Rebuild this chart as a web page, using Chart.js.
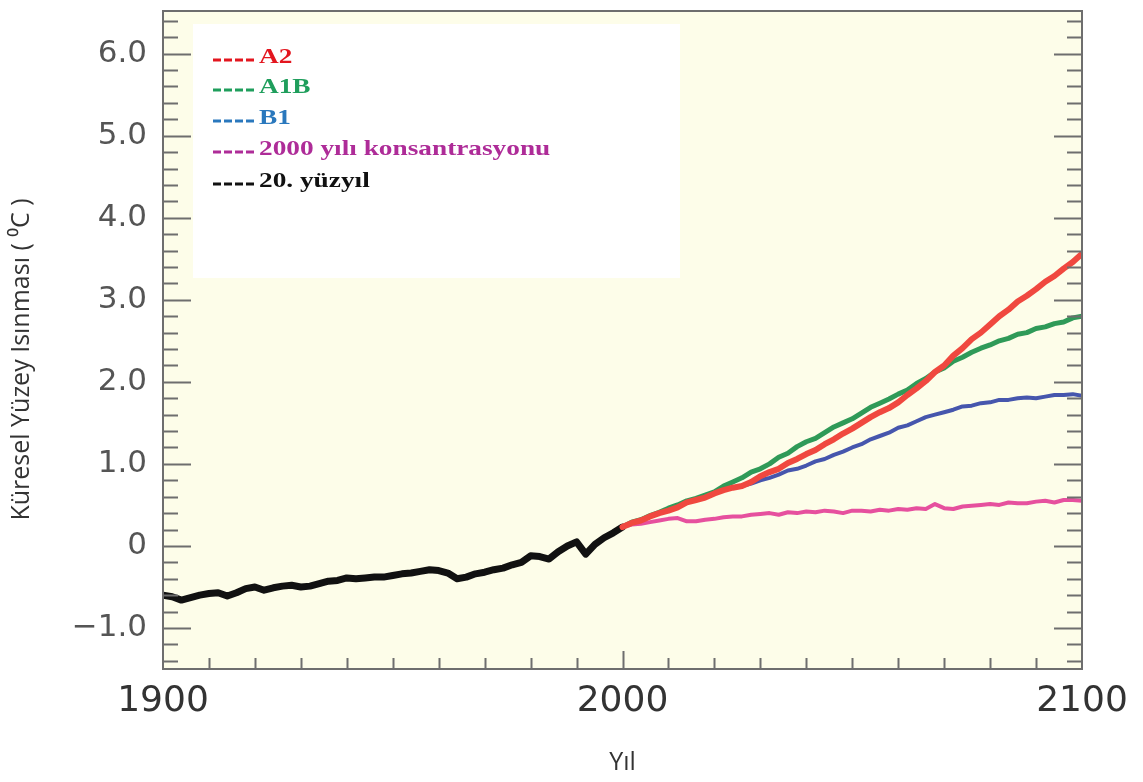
<!DOCTYPE html>
<html>
<head>
<meta charset="utf-8">
<script src="https://cdn.jsdelivr.net/npm/chart.js@4/dist/chart.umd.min.js"></script>
<style>
  html, body { margin: 0; padding: 0; background: #fff; }
  #wrap { width: 1143px; height: 782px; }
</style>
</head>
<body>
<div id="wrap"><canvas id="chart" width="1143" height="782"></canvas></div>
<script>
// 20th century observations (every 2 years)
const histYears = [];
for (let y = 1900; y <= 2000; y += 2) histYears.push(y);
const histValues = [
  -0.60, -0.62, -0.66, -0.63, -0.60, -0.58, -0.57, -0.61, -0.57, -0.52,
  -0.50, -0.54, -0.51, -0.49, -0.48, -0.50, -0.49, -0.46, -0.43, -0.42,
  -0.39, -0.40, -0.39, -0.38, -0.38, -0.36, -0.34, -0.33, -0.31, -0.29,
  -0.30, -0.33, -0.40, -0.38, -0.34, -0.32, -0.29, -0.27, -0.23, -0.20,
  -0.12, -0.13, -0.16, -0.07, 0.00, 0.05, -0.10, 0.02, 0.10, 0.16,
  0.23
];

// scenario projections (every 2 years)
const projYears = [];
for (let y = 2000; y <= 2100; y += 2) projYears.push(y);
const a2Values = [
  0.23, 0.28, 0.31, 0.36, 0.40, 0.43, 0.47, 0.53, 0.56, 0.59,
  0.64, 0.68, 0.71, 0.73, 0.78, 0.85, 0.90, 0.94, 1.01, 1.06,
  1.12, 1.17, 1.24, 1.30, 1.37, 1.43, 1.50, 1.57, 1.63, 1.68,
  1.75, 1.84, 1.92, 2.01, 2.12, 2.20, 2.32, 2.41, 2.52, 2.60,
  2.70, 2.80, 2.88, 2.98, 3.05, 3.13, 3.22, 3.29, 3.38, 3.46,
  3.56
];
const a1bValues = [
  0.23, 0.29, 0.32, 0.37, 0.41, 0.46, 0.50, 0.55, 0.58, 0.62,
  0.66, 0.73, 0.78, 0.83, 0.90, 0.94, 1.00, 1.08, 1.13, 1.21,
  1.27, 1.31, 1.38, 1.45, 1.50, 1.55, 1.62, 1.69, 1.74, 1.79,
  1.85, 1.90, 1.98, 2.04, 2.12, 2.17, 2.25, 2.30, 2.36, 2.41,
  2.45, 2.50, 2.53, 2.58, 2.60, 2.65, 2.67, 2.71, 2.73, 2.78,
  2.80
];
const b1Values = [
  0.23, 0.28, 0.31, 0.36, 0.40, 0.45, 0.48, 0.53, 0.56, 0.61,
  0.64, 0.69, 0.71, 0.73, 0.76, 0.80, 0.83, 0.87, 0.92, 0.94,
  0.98, 1.03, 1.06, 1.11, 1.15, 1.20, 1.24, 1.30, 1.34, 1.38,
  1.44, 1.47, 1.52, 1.57, 1.60, 1.63, 1.66, 1.70, 1.71, 1.74,
  1.75, 1.78, 1.78, 1.80, 1.81, 1.80, 1.82, 1.84, 1.84, 1.85,
  1.83
];
const constValues = [
  0.23, 0.26, 0.27, 0.29, 0.31, 0.33, 0.34, 0.30, 0.30, 0.32,
  0.33, 0.35, 0.36, 0.36, 0.38, 0.39, 0.40, 0.38, 0.41, 0.40,
  0.42, 0.41, 0.43, 0.42, 0.40, 0.43, 0.43, 0.42, 0.44, 0.43,
  0.45, 0.44, 0.46, 0.45, 0.51, 0.46, 0.45, 0.48, 0.49, 0.50,
  0.51, 0.50, 0.53, 0.52, 0.52, 0.54, 0.55, 0.53, 0.56, 0.56,
  0.55
];

const seriesLabels = ['A2', 'A1B', 'B1', '2000 yılı konsantrasyonu', '20. yüzyıl'];
const legendColors = ['#e3161f', '#1f9e5c', '#2a78bd', '#ae2c98', '#111111'];
const lineColors = ['#f0483f', '#2f9a58', '#4656ad', '#e6509e', '#111111'];

const xTickLabels = [1900, 2000, 2100];
const yTickLabels = [-1, 0, 1, 2, 3, 4, 5, 6];

function pts(xs, ys) { return xs.map((x, i) => ({ x: x, y: ys[i] })); }

const frameAndLegend = {
  id: 'frameAndLegend',
  beforeDatasetsDraw(chart) {
    const { ctx, chartArea: a } = chart;
    ctx.save();
    ctx.fillStyle = '#fdfde9';
    ctx.fillRect(a.left, a.top, a.right - a.left, a.bottom - a.top);
    ctx.fillStyle = '#ffffff';
    ctx.fillRect(193, 24, 487, 254);
    ctx.restore();
  },
  afterDatasetsDraw(chart) {
    const { ctx, chartArea: a, scales } = chart;
    ctx.save();
    ctx.strokeStyle = '#6e6e6e';
    ctx.lineWidth = 2;
    ctx.beginPath();
    // y ticks every 0.2 on both sides
    for (let v = -1.4; v < 6.5; v += 0.2) {
      const r = Math.round(v * 10) / 10;
      const py = Math.round(scales.y.getPixelForValue(r)) + 0.5;
      const major = Math.abs(r - Math.round(r)) < 1e-6;
      const len = major ? 28 : 15;
      ctx.moveTo(a.left, py); ctx.lineTo(a.left + len, py);
      ctx.moveTo(a.right, py); ctx.lineTo(a.right - len, py);
    }
    // x ticks every 10 years
    for (let yr = 1910; yr < 2100; yr += 10) {
      const px = Math.round(scales.x.getPixelForValue(yr)) + 0.5;
      const len = yr === 2000 ? 18 : 11;
      ctx.moveTo(px, a.bottom); ctx.lineTo(px, a.bottom - len);
    }
    ctx.stroke();
    ctx.strokeRect(a.left, a.top, a.right - a.left, a.bottom - a.top);
    ctx.restore();

    // legend
    ctx.save();
    ctx.font = 'bold 21px "Liberation Serif", "Times New Roman", serif';
    ctx.textBaseline = 'middle';
    const rows = [58, 88, 119, 150, 182];
    seriesLabels.forEach((lab, i) => {
      ctx.strokeStyle = legendColors[i];
      ctx.fillStyle = legendColors[i];
      ctx.lineWidth = 3;
      ctx.setLineDash([8, 3]);
      ctx.beginPath();
      ctx.moveTo(213, rows[i] + 2);
      ctx.lineTo(255, rows[i] + 2);
      ctx.stroke();
      ctx.setLineDash([]);
      ctx.save();
      ctx.translate(259, rows[i]);
      ctx.scale(1.3, 1);
      ctx.fillText(lab, 0, 0);
      ctx.restore();
    });
    ctx.restore();
  }
};

const ctx = document.getElementById('chart').getContext('2d');
new Chart(ctx, {
  type: 'line',
  data: {
    datasets: [
      { label: seriesLabels[0], data: pts(projYears, a2Values), borderColor: lineColors[0], borderWidth: 6 },
      { label: seriesLabels[1], data: pts(projYears, a1bValues), borderColor: lineColors[1], borderWidth: 5 },
      { label: seriesLabels[2], data: pts(projYears, b1Values), borderColor: lineColors[2], borderWidth: 4 },
      { label: seriesLabels[3], data: pts(projYears, constValues), borderColor: lineColors[3], borderWidth: 4 },
      { label: seriesLabels[4], data: pts(histYears, histValues), borderColor: lineColors[4], borderWidth: 7 }
    ]
  },
  options: {
    responsive: false,
    animation: false,
    layout: { autoPadding: false, padding: { top: 11, right: 61, left: 0, bottom: 0 } },
    elements: { point: { radius: 0 }, line: { tension: 0, borderJoinStyle: 'round', borderCapStyle: 'round' } },
    plugins: { legend: { display: false }, tooltip: { enabled: false } },
    scales: {
      x: {
        type: 'linear',
        min: 1900,
        max: 2100,
        afterBuildTicks: (s) => { s.ticks = xTickLabels.map(v => ({ value: v })); },
        afterFit: (s) => { s.height = 113; s.paddingLeft = 0; s.paddingRight = 0; },
        grid: { display: false, drawTicks: false },
        border: { display: false },
        ticks: {
          padding: 11,
          color: '#333',
          font: { family: '"DejaVu Sans", sans-serif', size: 36 },
          callback: (v) => String(v)
        },
        title: {
          display: true,
          text: 'Yıl',
          color: '#333',
          font: { family: '"Liberation Sans Narrow", "Open Sans", sans-serif', size: 25 },
          padding: { top: 0, bottom: 4 }
        }
      },
      y: {
        min: -1.5,
        max: 6.52,
        afterBuildTicks: (s) => { s.ticks = yTickLabels.map(v => ({ value: v })); },
        afterFit: (s) => { s.width = 163; s.paddingTop = 0; s.paddingBottom = 0; },
        grid: { display: false, drawTicks: false },
        border: { display: false },
        ticks: {
          padding: 16,
          color: '#555',
          font: { family: '"DejaVu Sans", sans-serif', size: 31 },
          callback: (v) => v === 0 ? '0' : (v < 0 ? '\u2212' + Math.abs(v).toFixed(1) : v.toFixed(1))
        },
        title: {
          display: true,
          // trailing spaces push the visible text down a little, like the original
          text: 'Küresel Yüzey Isınması ( \u2070C )      ',
          color: '#333',
          font: { family: '"Liberation Sans Narrow", "Open Sans", sans-serif', size: 25 },
          padding: { top: 7, bottom: 0 }
        }
      }
    }
  },
  plugins: [frameAndLegend]
});
</script>
</body>
</html>
